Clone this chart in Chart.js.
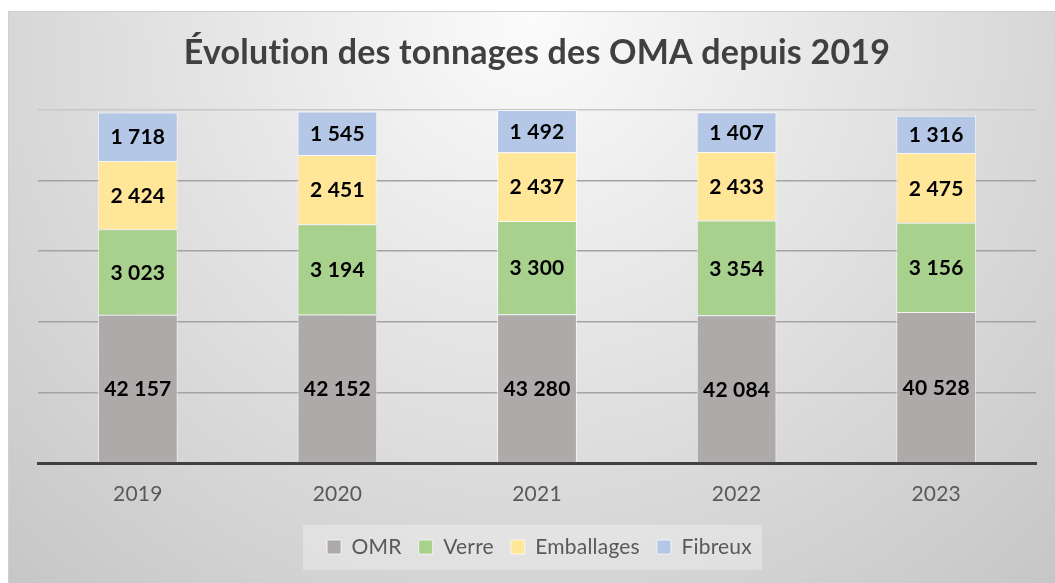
<!DOCTYPE html>
<html>
<head>
<meta charset="utf-8">
<script src="https://cdn.jsdelivr.net/npm/chart.js@4.4.1/dist/chart.umd.min.js"></script>
<style>
  html, body { margin: 0; padding: 0; background: #fff; }
  #wrap { width: 1055px; height: 583px; }
</style>
</head>
<body>
<div id="wrap"><canvas id="oma"></canvas></div>
<script>
const years = ['2019', '2020', '2021', '2022', '2023'];
const omr = [42157, 42152, 43280, 42084, 40528];
const verre = [3023, 3194, 3300, 3354, 3156];
const emballages = [2424, 2451, 2437, 2433, 2475];
const fibreux = [1718, 1545, 1492, 1407, 1316];
// OMR bars are not drawn to the same scale as their labels in the picture,
// so their drawn height is read off separately (in axis units)
const omrDrawn = [5250, 5260, 5270, 5230, 5350];
const axisMax = 12500;
const axisStep = 2500;

function fmt(v) {
  return String(v).replace(/\B(?=(\d{3})+(?!\d))/g, ' ');
}

Chart.defaults.font.family = 'Lato';

// grey gradient panel + light box behind legend
const chartBg = {
  id: 'chartBg',
  beforeDraw(chart) {
    const ctx = chart.ctx;
    ctx.save();
    const g = ctx.createRadialGradient(530, 20, 0, 530, 20, 800);
    g.addColorStop(0, '#fbfbfb');
    g.addColorStop(1, '#c4c4c4');
    ctx.fillStyle = g;
    ctx.fillRect(8, 11, chart.width - 8, chart.height - 11);
    ctx.strokeStyle = '#d0d0d0';
    ctx.lineWidth = 1;
    ctx.strokeRect(8.5, 11.5, chart.width, chart.height);

    const boxes = chart.legend.legendHitBoxes;
    if (boxes && boxes.length) {
      const last = boxes[boxes.length - 1];
      const l = boxes[0].left - 24;
      const r = last.left + last.width + 15;
      const cy = boxes[0].top + boxes[0].height / 2;
      ctx.fillStyle = 'rgba(255,255,255,0.3)';
      ctx.fillRect(l, cy - 22, r - l, 45);
    }
    ctx.restore();
    // a touch of letter spacing stops Lato's "ti" ligature in the title
    ctx.letterSpacing = '0.2px';
  }
};

const barLabels = {
  id: 'barLabels',
  afterDatasetsDraw(chart) {
    const ctx = chart.ctx;
    ctx.save();
    ctx.font = 'bold 21px Lato';
    ctx.fillStyle = '#000';
    ctx.textAlign = 'center';
    ctx.textBaseline = 'middle';
    chart.data.datasets.forEach((ds, i) => {
      chart.getDatasetMeta(i).data.forEach((bar, j) => {
        const c = bar.getCenterPoint();
        ctx.fillText(fmt(ds.shown[j]), c.x, c.y + 1);
      });
    });
    ctx.restore();
  }
};

const omaData = {
  labels: years,
  datasets: [
    { label: 'OMR', data: omrDrawn, shown: omr, backgroundColor: '#aeaaaa' },
    { label: 'Verre', data: verre, shown: verre, backgroundColor: '#a9d18e' },
    { label: 'Emballages', data: emballages, shown: emballages, backgroundColor: '#ffe699' },
    { label: 'Fibreux', data: fibreux, shown: fibreux, backgroundColor: '#b4c7e7' }
  ]
};
omaData.datasets.forEach(ds => {
  ds.borderColor = 'rgba(255,255,255,0.7)';
  ds.borderWidth = 1;
  ds.barPercentage = 0.4;
  ds.categoryPercentage = 1;
});

const omaConfig = {
  type: 'bar',
  data: omaData,
  options: {
    responsive: true,
    maintainAspectRatio: false,
    animation: false,
    layout: { padding: { top: 0, left: 38, right: 19, bottom: 15.5 } },
    plugins: {
      title: {
        display: true,
        text: 'Évolution des tonnages des OMA depuis 2019',
        color: '#404040',
        font: { size: 34, weight: 'bold' },
        padding: { top: 33, bottom: 36.2 }
      },
      legend: {
        position: 'bottom',
        labels: {
          boxWidth: 14,
          boxHeight: 14,
          padding: 17,
          color: '#595959',
          font: { size: 21 }
        }
      },
      tooltip: { enabled: false }
    },
    scales: {
      x: {
        stacked: true,
        grid: { display: false, drawTicks: false },
        border: { display: true, color: '#404040', width: 3 },
        ticks: { color: '#595959', font: { size: 21, lineHeight: 1.857 }, padding: 11.5 },
        afterFit: s => { s.height = 56.5; }
      },
      y: {
        stacked: true,
        min: 0,
        max: axisMax,
        ticks: { display: false, stepSize: axisStep },
        grid: {
          drawTicks: false,
          lineWidth: 1.5,
          color: c => c.tick && c.tick.value === axisMax ? '#c8c8c8' : '#a3a3a3'
        },
        border: { display: false }
      }
    }
  },
  plugins: [chartBg, barLabels]
};

const omaChart = new Chart(document.getElementById('oma'), omaConfig);
</script>
</body>
</html>
